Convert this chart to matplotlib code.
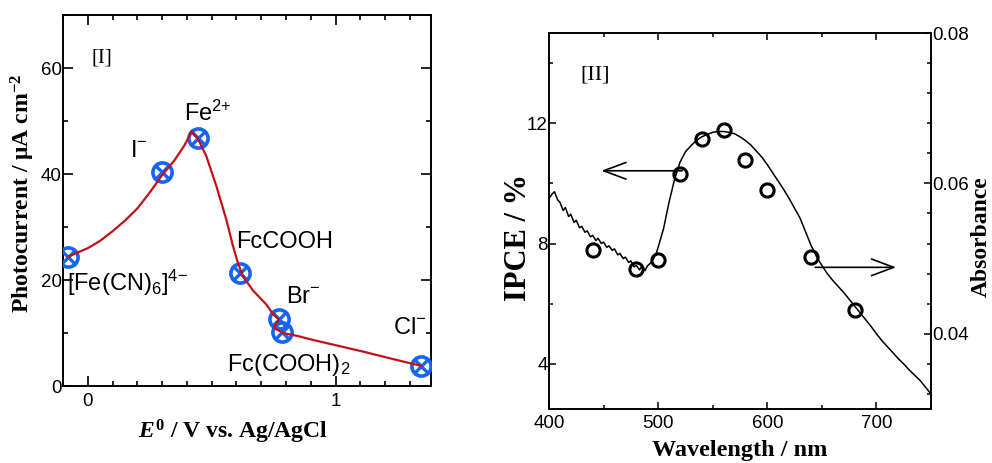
import matplotlib
matplotlib.use('Agg')
import matplotlib.pyplot as plt
from matplotlib.ticker import MultipleLocator

plt.rcParams['font.family'] = 'Liberation Sans'
plt.rcParams['mathtext.fontset'] = 'custom'
plt.rcParams['mathtext.it'] = 'Liberation Serif:italic:bold'
plt.rcParams['mathtext.default'] = 'regular'

# ---- panel I data: photocurrent vs redox potential ----
redox_x = [-0.08, 0.30, 0.445, 0.615, 0.772, 0.782, 1.345]
redox_y = [24.4, 40.3, 46.7, 21.4, 12.7, 10.2, 3.8]
redox_names = ['[Fe(CN)$_6$]$^{4{-}}$', 'I$^{-}$', 'Fe$^{2{+}}$', 'FcCOOH',
               'Br$^{-}$', 'Fc(COOH)$_2$', 'Cl$^{-}$']

# hand drawn guide curve
guide_x = [-0.08, 0.00, 0.05, 0.10, 0.15, 0.20, 0.25, 0.30, 0.35, 0.39, 0.418,
           0.445, 0.478, 0.519, 0.559, 0.586, 0.606, 0.626, 0.667, 0.72, 0.747,
           0.772, 0.75, 0.788, 0.85, 0.908, 1.0, 1.11, 1.23, 1.345]
guide_y = [24.4, 26.0, 27.4, 29.2, 31.2, 33.5, 36.5, 39.8, 42.6, 45.4, 48.0,
           46.6, 43.4, 37.7, 31.4, 26.4, 23.2, 20.7, 18.0, 15.4, 13.6,
           12.6, 11.0, 10.0, 9.4, 8.7, 7.7, 6.5, 5.1, 3.8]

# ---- panel II data: IPCE action spectrum and absorbance ----
ipce_wl = [440, 480, 500, 520, 540, 560, 580, 600, 640, 680]
ipce = [7.77, 7.14, 7.47, 10.32, 11.48, 11.77, 10.78, 9.79, 7.57, 5.78]

abs_wl = [400, 403, 405, 408, 410, 413, 415, 418, 420, 423, 425, 428, 430, 433,
          435, 438, 440, 443, 445, 448, 450, 453, 455, 458, 460, 463, 465, 468,
          470, 473, 475, 478, 480, 483, 485, 488, 490, 493, 495, 498, 500, 505,
          510, 515, 520, 525, 530, 535, 540, 545, 550, 555, 560, 565, 570, 575,
          580, 585, 590, 595, 600, 605, 610, 615, 620, 625, 630, 635, 640, 645,
          650, 655, 660, 665, 670, 675, 680, 685, 690, 695, 700, 705, 710, 715,
          720, 725, 730, 735, 740, 745, 750]
absorb = [0.0580, 0.0586, 0.0589, 0.0578, 0.0575, 0.0564, 0.0568, 0.0556, 0.0559,
          0.0548, 0.0551, 0.0541, 0.0543, 0.0535, 0.0537, 0.0529, 0.0531, 0.0524,
          0.0527, 0.0520, 0.0522, 0.0515, 0.0517, 0.0511, 0.0513, 0.0505, 0.0507,
          0.0500, 0.0502, 0.0495, 0.0497, 0.0489, 0.0491, 0.0485, 0.0490, 0.0484,
          0.0490, 0.0494, 0.0498, 0.0506, 0.0515, 0.0540, 0.0575, 0.0605, 0.0628,
          0.0642, 0.0650, 0.0657, 0.0662, 0.0665, 0.0668, 0.0669, 0.0669, 0.0668,
          0.0666, 0.0662, 0.0657, 0.0651, 0.0643, 0.0635, 0.0625, 0.0614, 0.0603,
          0.0592, 0.0580, 0.0567, 0.0554, 0.0536, 0.0518, 0.0503, 0.0491, 0.0480,
          0.0471, 0.0463, 0.0455, 0.0446, 0.0437, 0.0428, 0.0419, 0.0410, 0.0400,
          0.0391, 0.0383, 0.0375, 0.0367, 0.0360, 0.0352, 0.0345, 0.0338, 0.0329,
          0.0320]

fig = plt.figure(figsize=(9.92, 4.63), dpi=100)

serif_bold = dict(family='Liberation Serif', weight='bold')
blue = '#1565f0'
red = '#c4101a'

# ================= panel I =================
ax1 = fig.add_axes([0.0635, 0.1663, 0.371, 0.8013])
ax1.plot(redox_x, redox_y, 'o', ms=13.8, mfc='none', mec=blue, mew=2.6, zorder=3)
ax1.plot(redox_x, redox_y, 'x', ms=9, mec=blue, mew=2.4, zorder=3)
ax1.plot(guide_x, guide_y, '-', color=red, lw=1.6, zorder=4)

label_pos = [(-0.085, 18.0), (0.169, 43.3), (0.387, 50.1), (0.60, 26.1),
             (0.80, 15.7), (0.56, 2.9), (1.23, 9.8)]
for name, (lx, ly) in zip(redox_names, label_pos):
    ax1.text(lx, ly, name, fontsize=17, ha='left', va='baseline', zorder=5)

ax1.text(0.016, 61.1, '[I]', fontsize=15, family='Liberation Serif',
         ha='left', va='baseline')

ax1.set_xlim(-0.1, 1.385)
ax1.set_ylim(0, 70)
ax1.xaxis.set_major_locator(MultipleLocator(1))
ax1.xaxis.set_minor_locator(MultipleLocator(0.1))
ax1.yaxis.set_major_locator(MultipleLocator(20))
ax1.yaxis.set_minor_locator(MultipleLocator(10))
ax1.tick_params(which='both', direction='in', top=True, right=True, width=1.2,
                labelsize=13.5)
ax1.tick_params(which='major', length=7)
ax1.tick_params(which='minor', length=3.5)
ax1.tick_params(axis='y', pad=1)
ax1.tick_params(axis='x', pad=5)
for sp in ax1.spines.values():
    sp.set_linewidth(1.4)

ax1.set_ylabel('Photocurrent / μA cm$^{-2}$', fontsize=17, **serif_bold)
ax1.yaxis.set_label_coords(-0.07, 0.52)
ax1.set_xlabel(r'$\mathit{E}^{0}$ / V vs. Ag/AgCl', fontsize=17, **serif_bold)
ax1.xaxis.set_label_coords(0.462, -0.085)

# ================= panel II =================
ax2 = fig.add_axes([0.5534, 0.1166, 0.3851, 0.8121])
ax2.plot(ipce_wl, ipce, 'o', ms=9.5, mfc='none', mec='black', mew=2.2, zorder=3)
ax2.set_xlim(400, 750)
ax2.set_ylim(2.5, 15)
ax2.xaxis.set_major_locator(MultipleLocator(100))
ax2.xaxis.set_minor_locator(MultipleLocator(50))
ax2.yaxis.set_major_locator(MultipleLocator(4))
ax2.yaxis.set_minor_locator(MultipleLocator(2))
ax2.tick_params(which='both', direction='in', top=True, width=1.1, labelsize=13.5)
ax2.tick_params(which='major', length=5)
ax2.tick_params(which='minor', length=3)
ax2.tick_params(axis='y', pad=1)
ax2.tick_params(axis='x', pad=4)

ax2.annotate('', xy=(448, 10.42), xytext=(522, 10.42),
             arrowprops=dict(arrowstyle='->,head_length=0.8,head_width=0.3',
                             color='black', lw=1.2, mutation_scale=20,
                             shrinkA=0, shrinkB=0))
ax2.annotate('', xy=(718, 7.21), xytext=(644, 7.21),
             arrowprops=dict(arrowstyle='->,head_length=0.8,head_width=0.3',
                             color='black', lw=1.2, mutation_scale=20,
                             shrinkA=0, shrinkB=0))
ax2.text(428.4, 13.44, '[II]', fontsize=16, family='Liberation Serif',
         ha='left', va='baseline')

ax2.set_ylabel('IPCE / %', fontsize=22, **serif_bold)
ax2.yaxis.set_label_coords(-0.042, 0.457)
ax2.set_xlabel('Wavelength / nm', fontsize=17.5, **serif_bold)
ax2.xaxis.set_label_coords(0.5, -0.082)

ax3 = ax2.twinx()
ax3.plot(abs_wl, absorb, '-', color='black', lw=1.1)
ax3.set_ylim(0.03, 0.08)
ax3.yaxis.set_major_locator(MultipleLocator(0.02))
ax3.yaxis.set_minor_locator(MultipleLocator(0.004))
ax3.tick_params(which='both', direction='in', width=1.1, labelsize=13.5, pad=1)
ax3.tick_params(which='major', length=5)
ax3.tick_params(which='minor', length=3)
ax3.set_ylabel('Absorbance', fontsize=17, rotation=90, **serif_bold)
ax3.yaxis.set_label_coords(1.103, 0.457)
for a in (ax2, ax3):
    for sp in a.spines.values():
        sp.set_linewidth(1.2)

fig.savefig('out.png', dpi=100)
